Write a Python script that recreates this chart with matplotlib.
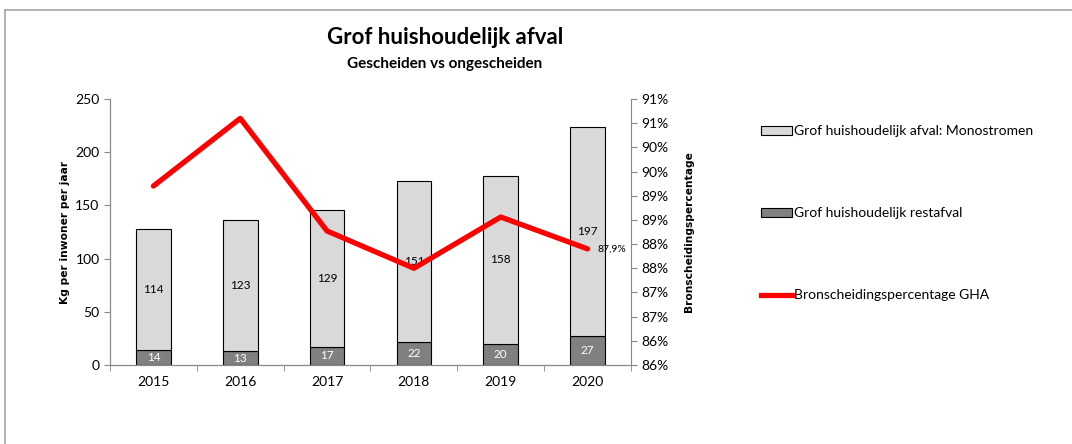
import math
import numpy as np
import matplotlib
matplotlib.use("Agg")
from matplotlib import pyplot as plt
from matplotlib.patches import Patch
from matplotlib.lines import Line2D
from matplotlib.ticker import FuncFormatter

jaren = ["2015", "2016", "2017", "2018", "2019", "2020"]
restafval = [14, 13, 17, 22, 20, 27]
monostromen = [114, 123, 129, 151, 158, 197]
percentage = [89.2, 90.6, 88.27, 87.5, 88.56, 87.9]

plt.rcParams["font.family"] = ["Lato", "DejaVu Sans"]

fig = plt.figure(figsize=(10.72, 4.44), dpi=100)
ax = fig.add_axes([0.1026, 0.178, 0.4860, 0.599])
ax2 = ax.twinx()

x = np.arange(len(jaren))
b1 = ax.bar(x, restafval, 0.4, color="#808080", edgecolor="black", linewidth=0.8, zorder=2)
b2 = ax.bar(x, monostromen, 0.4, bottom=restafval, color="#d9d9d9", edgecolor="black", linewidth=0.8, zorder=2)

for i in range(len(jaren)):
    ax.text(x[i], restafval[i] / 2, str(restafval[i]), ha="center", va="center", color="white", fontsize=8.5)
    ax.text(x[i], restafval[i] + monostromen[i] / 2, str(monostromen[i]), ha="center", va="center", color="black", fontsize=8.5)

ax2.plot(x, percentage, color="#ff0000", linewidth=3.8, solid_capstyle="round", zorder=3)
ax2.text(x[-1] + 0.12, percentage[-1], "87,9%", ha="left", va="center", fontsize=7.5)

ax.set_xlim(-0.5, len(jaren) - 0.5)
ax.set_ylim(0, 250)
ax.set_yticks([0, 50, 100, 150, 200, 250])
ax.set_xticks(x)
ax.set_xticklabels(jaren, fontsize=10)
ax.set_xticks(np.arange(-0.5, len(jaren)), minor=True)
ax.tick_params(axis="x", which="major", length=0, pad=8)
ax.tick_params(axis="x", which="minor", length=4, color="#888888")
ax.tick_params(axis="y", labelsize=10, length=4, color="#888888")

ax2.set_ylim(85.5, 91.0)
ax2.set_yticks(np.arange(85.5, 91.01, 0.5))
ax2.yaxis.set_major_formatter(FuncFormatter(lambda v, p: "%d%%" % math.floor(v + 0.5)))
ax2.tick_params(axis="y", labelsize=10, length=4, color="#888888")

for a in (ax, ax2):
    a.spines["top"].set_visible(False)
    for s in ("left", "right", "bottom"):
        a.spines[s].set_color("#888888")
ax.spines["right"].set_visible(False)

ax.set_ylabel("Kg per inwoner per jaar", family="DejaVu Sans", fontweight="bold", fontsize=7.7, labelpad=4)
ax2.set_ylabel("Bronscheidingspercentage", family="DejaVu Sans", fontweight="bold", fontsize=7.7, labelpad=11)

fig.text(0.415, 0.915, "Grof huishoudelijk afval", ha="center", va="center", fontsize=16, fontweight="bold")
fig.text(0.415, 0.855, "Gescheiden vs ongescheiden", ha="center", va="center", fontsize=11, fontweight="bold")

handles = [
    Patch(facecolor="#d9d9d9", edgecolor="black", linewidth=0.8),
    Patch(facecolor="#808080", edgecolor="black", linewidth=0.8),
    Line2D([0], [0], color="#ff0000", linewidth=3.8),
]
labels = ["Grof huishoudelijk afval: Monostromen", "Grof huishoudelijk restafval", "Bronscheidingspercentage GHA"]
fig.legend(handles, labels, loc="upper left", bbox_to_anchor=(0.705, 0.731), frameon=False,
           fontsize=10, labelspacing=5.05, handlelength=2.2, handleheight=0.6, handletextpad=0.15, borderaxespad=0)

fig.add_artist(Line2D([5 / 1072, 1], [1 - 10 / 444, 1 - 10 / 444], color="#a6a6a6", linewidth=1.2))
fig.add_artist(Line2D([5 / 1072, 5 / 1072], [0, 1 - 10 / 444], color="#a6a6a6", linewidth=1.2))

fig.savefig("out.png", dpi=100)
